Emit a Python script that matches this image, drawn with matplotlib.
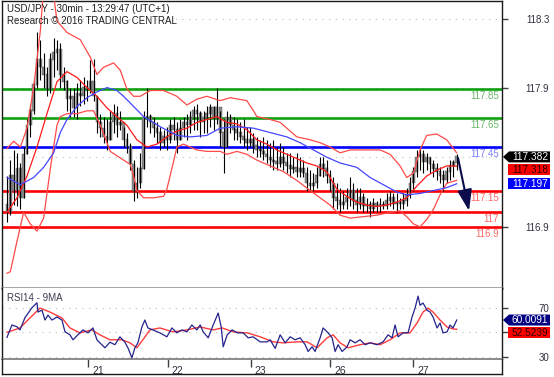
import numpy as np
import matplotlib
matplotlib.use('Agg')
import matplotlib.pyplot as plt
from matplotlib.patches import Polygon
from matplotlib.lines import Line2D
from matplotlib.transforms import ScaledTranslation, blended_transform_factory

plt.rcParams['font.family'] = ['Liberation Sans', 'DejaVu Sans']

# ---- price bars (one bar per hour, open = previous close) ----
first_open = 117.05
closes = [117.00, 117.25, 117.15, 117.30, 117.10, 117.40, 117.60, 117.70, 117.88, 118.05,
          118.00, 117.95, 117.85, 118.05, 118.10, 118.12, 117.95, 117.90, 117.78, 117.80,
          117.72, 117.82, 117.80, 117.86, 117.85, 117.90, 117.80, 117.62, 117.58, 117.52,
          117.50, 117.62, 117.68, 117.60, 117.62, 117.50, 117.45, 117.33, 117.15, 117.20,
          117.30, 117.65, 117.66, 117.62, 117.58, 117.55, 117.48, 117.52, 117.50, 117.60,
          117.57, 117.50, 117.58, 117.62, 117.60, 117.65, 117.70, 117.68, 117.62, 117.65,
          117.68, 117.72, 117.65, 117.72, 117.55, 117.45, 117.65, 117.60, 117.57, 117.55,
          117.52, 117.50, 117.48, 117.50, 117.46, 117.43, 117.42, 117.40, 117.38, 117.36,
          117.35, 117.33, 117.38, 117.34, 117.32, 117.30, 117.31, 117.28, 117.30, 117.27,
          117.20, 117.18, 117.20, 117.25, 117.33, 117.30, 117.25, 117.20, 117.10, 117.08,
          117.05, 117.07, 117.10, 117.15, 117.08, 117.05, 117.10, 117.04, 117.05, 117.02,
          117.06, 117.04, 117.05, 117.04, 117.08, 117.10, 117.06, 117.07, 117.06, 117.08,
          117.12, 117.20, 117.28, 117.38, 117.40, 117.35, 117.38, 117.33, 117.30, 117.28,
          117.25, 117.22, 117.28, 117.32, 117.34, 117.382]
highs = [117.25, 117.36, 117.43, 117.41, 117.34, 117.45, 117.64, 117.75, 117.91, 118.24,
         118.19, 118.10, 118.00, 118.10, 118.20, 118.19, 118.17, 118.00, 117.91, 117.86,
         117.86, 117.89, 117.91, 117.93, 117.91, 118.05, 118.06, 117.80, 117.68, 117.66,
         117.64, 117.70, 117.75, 117.73, 117.70, 117.59, 117.55, 117.48, 117.36, 117.31,
         117.41, 117.70, 117.86, 117.68, 117.66, 117.62, 117.59, 117.57, 117.59, 117.64,
         117.66, 117.62, 117.64, 117.66, 117.68, 117.70, 117.73, 117.75, 117.70, 117.70,
         117.73, 117.75, 117.73, 117.86, 117.70, 117.64, 117.70, 117.68, 117.66, 117.64,
         117.62, 117.64, 117.59, 117.59, 117.55, 117.52, 117.50, 117.52, 117.50, 117.48,
         117.50, 117.45, 117.48, 117.45, 117.41, 117.41, 117.38, 117.41, 117.38, 117.36,
         117.31, 117.29, 117.27, 117.31, 117.38, 117.38, 117.36, 117.29, 117.24, 117.20,
         117.17, 117.15, 117.17, 117.24, 117.20, 117.17, 117.17, 117.13, 117.10, 117.08,
         117.10, 117.08, 117.10, 117.08, 117.13, 117.15, 117.13, 117.13, 117.10, 117.13,
         117.17, 117.24, 117.31, 117.43, 117.44, 117.43, 117.41, 117.38, 117.36, 117.34,
         117.31, 117.29, 117.31, 117.36, 117.36, 117.40]
lows = [116.93, 116.98, 117.05, 117.04, 117.02, 117.10, 117.40, 117.52, 117.68, 117.86,
        117.91, 117.86, 117.80, 117.82, 117.93, 117.98, 117.86, 117.84, 117.70, 117.66,
        117.66, 117.64, 117.73, 117.75, 117.77, 117.82, 117.77, 117.55, 117.52, 117.48,
        117.43, 117.50, 117.55, 117.52, 117.57, 117.45, 117.41, 117.29, 117.08, 117.10,
        117.17, 117.30, 117.59, 117.55, 117.52, 117.48, 117.43, 117.45, 117.43, 117.48,
        117.50, 117.41, 117.50, 117.52, 117.50, 117.55, 117.57, 117.57, 117.52, 117.55,
        117.55, 117.59, 117.57, 117.61, 117.45, 117.27, 117.45, 117.55, 117.50, 117.50,
        117.48, 117.45, 117.43, 117.45, 117.41, 117.38, 117.38, 117.36, 117.34, 117.31,
        117.29, 117.29, 117.31, 117.29, 117.27, 117.24, 117.27, 117.24, 117.24, 117.24,
        117.15, 117.15, 117.15, 117.17, 117.25, 117.24, 117.20, 117.15, 117.02, 117.02,
        117.00, 117.02, 117.02, 117.04, 117.02, 117.00, 117.02, 117.00, 117.00, 116.97,
        117.00, 117.00, 117.00, 117.02, 117.02, 117.04, 117.02, 117.00, 117.02, 117.02,
        117.04, 117.10, 117.15, 117.24, 117.29, 117.27, 117.29, 117.27, 117.24, 117.22,
        117.20, 117.15, 117.20, 117.22, 117.24, 117.29]

# ---- overlays (bar index, price) ----
bb_up_x = [0, 2, 4, 6, 8, 10, 11, 13, 14, 15, 18, 22, 25, 27, 29, 32, 34, 36, 38, 40,
           43, 47, 51, 54, 57, 60, 64, 67, 72, 74, 75, 79, 82, 87, 91, 94, 97, 100, 103, 107,
           112, 115, 118, 120, 122, 124, 126, 129, 132, 135]
bb_up_y = [117.44, 117.49, 117.45, 117.58, 117.86, 118.25, 118.55, 118.65, 118.50, 118.32,
           118.24, 118.19, 118.07, 117.95, 118.00, 118.03, 117.98, 117.85, 117.80, 117.80,
           117.84, 117.84, 117.80, 117.74, 117.78, 117.80, 117.77, 117.79, 117.77, 117.70,
           117.66, 117.64, 117.62, 117.52, 117.50, 117.48, 117.45, 117.41, 117.43, 117.43,
           117.43, 117.40, 117.32, 117.24, 117.27, 117.43, 117.53, 117.54, 117.50, 117.41]
bb_lo_x = [0, 1, 3, 5, 7, 9, 11, 12, 13, 14, 15, 16, 18, 21, 24, 26, 28, 31, 35, 37,
           38, 39, 41, 44, 47, 48, 50, 51, 53, 57, 60, 64, 66, 69, 72, 75, 79, 83, 87, 91,
           94, 97, 100, 103, 107, 111, 115, 118, 120, 122, 124, 126, 128, 130, 132, 135]
bb_lo_y = [116.58, 116.59, 116.80, 117.00, 116.92, 116.87, 116.96, 117.13, 117.30, 117.45,
           117.60, 117.66, 117.68, 117.68, 117.70, 117.70, 117.60, 117.42, 117.36, 117.33,
           117.25, 117.15, 117.10, 117.10, 117.11, 117.16, 117.35, 117.45, 117.47, 117.43,
           117.42, 117.42, 117.40, 117.42, 117.40, 117.36, 117.32, 117.28, 117.22, 117.15,
           117.10, 117.05, 116.98, 116.96, 116.97, 116.98, 117.00, 117.01, 116.97, 116.92,
           116.90, 116.95, 117.02, 117.12, 117.20, 117.22]
ma20_x = [0, 3, 6, 9, 12, 15, 18, 21, 24, 27, 30, 33, 36, 39, 42, 45, 48, 51, 54, 57,
          60, 63, 66, 69, 72, 75, 78, 81, 84, 87, 90, 93, 96, 99, 102, 105, 108, 111, 114, 117,
          120, 123, 126, 129, 132, 135]
ma20_y = [117.00, 117.10, 117.25, 117.45, 117.68, 117.90, 117.97, 117.93, 117.86, 117.80,
          117.72, 117.66, 117.60, 117.50, 117.45, 117.47, 117.52, 117.56, 117.58, 117.62,
          117.64, 117.66, 117.62, 117.61, 117.57, 117.50, 117.47, 117.43, 117.40, 117.37,
          117.34, 117.32, 117.28, 117.16, 117.11, 117.07, 117.05, 117.04, 117.05, 117.07,
          117.10, 117.18, 117.25, 117.29, 117.32, 117.318]
ma50_x = [0, 4, 8, 11, 14, 16, 18, 21, 24, 27, 30, 33, 35, 38, 41, 46, 51, 55, 60, 64,
          69, 74, 79, 84, 88, 92, 96, 100, 105, 109, 113, 117, 120, 124, 128, 132, 135]
ma50_y = [117.24, 117.19, 117.24, 117.31, 117.41, 117.55, 117.64, 117.73, 117.79, 117.83,
          117.86, 117.84, 117.80, 117.73, 117.66, 117.59, 117.53, 117.52, 117.53, 117.58,
          117.59, 117.58, 117.55, 117.52, 117.48, 117.43, 117.38, 117.34, 117.31, 117.24,
          117.19, 117.14, 117.12, 117.13, 117.15, 117.17, 117.197]

# ---- RSI panel ----
rsi_x = [0, 1.5, 3, 3.9, 5.4, 7.5, 9, 9.3, 10.5, 11.4,
         12.3, 13.5, 15, 16.5, 17.4, 18.9, 19.8, 21.3, 22.8, 24.3,
         25.8, 27, 27.9, 29.4, 30.9, 32.4, 33.9, 35.4, 36.3, 37.5,
         38.4, 39.3, 40.5, 41.4, 42.3, 43.8, 45.9, 48, 49.5, 51,
         52.5, 54, 55.5, 57, 58, 58.9, 60.4, 61.9, 63.4, 64.3,
         64.9, 66.1, 67.6, 69.1, 70.9, 72.4, 73.9, 76, 78.1, 79,
         80.5, 82, 83.5, 85, 86.5, 88, 89.5, 90.4, 91.6, 92.5,
         94, 94.9, 96.4, 97.6, 98.5, 99.4, 100.6, 102.1, 103, 104.5,
         106, 107.5, 109, 111.1, 112.9, 114.4, 115.6, 116.5, 117.4, 118.9,
         120.4, 121.6, 122.5, 123.4, 124, 124.9, 126.1, 127, 127.9, 129.1,
         130, 130.9, 132.1, 133, 133.9, 135]
rsi_y = [46, 56, 54.5, 52, 62, 70, 74, 66.5, 68, 60,
         64, 60, 62.5, 60, 50.5, 48, 44, 48, 52, 49.6,
         53.6, 44, 41.5, 37.5, 42, 40, 46.4, 42, 37.5, 29.4,
         37.5, 41.5, 54.4, 60, 53.6, 52, 49.6, 46.4, 53.6, 49.6,
         52, 50.4, 56, 52, 56, 50.4, 45.6, 56, 65.7, 54.4,
         38.3, 48, 52, 49.6, 49.6, 45.6, 46.4, 42.3, 42.3, 44,
         37, 48, 41.5, 46.4, 44, 45.6, 40, 34.5, 38.3, 34.5,
         45.6, 53.6, 49.6, 45.6, 34.5, 40, 34.5, 38.3, 44, 41.5,
         44, 40, 41.5, 40, 42.3, 48, 45.6, 56, 46.4, 49.6,
         49.6, 62.5, 69.7, 79.4, 72, 73.8, 68, 66.5, 62.5, 53.6,
         57.6, 49.6, 50.4, 56, 53.6, 60.0091]
rsi_ma_x = [0, 3.9, 6.9, 9.9, 12.9, 16.5, 18.9, 21.9, 25.5, 27.9,
            30.9, 34.5, 36.9, 39, 40.8, 42.9, 45.9, 49.8, 54, 58,
            61.9, 64.6, 67.9, 72.1, 76, 79.9, 82.9, 87.1, 90.1, 93.1,
            96.1, 97.9, 100, 102.4, 106, 109, 112, 115, 118, 121,
            123.1, 124.9, 126.4, 127.9, 130, 132.1, 133.9, 135]
rsi_ma_y = [50, 53.6, 61.7, 69.7, 66.5, 61.7, 53.6, 49.6, 52, 48,
            44, 44, 41.5, 37.5, 44, 52, 53.6, 50.4, 52, 54.4,
            52, 53.6, 50.4, 49.6, 46.4, 42.3, 41.5, 42.3, 42.3, 37.5,
            45.6, 48, 41.5, 37.5, 40, 41.5, 40, 44, 49.6, 49.6,
            57.6, 66.5, 69.7, 66.5, 60, 54.4, 52.8, 52.5239]

levels = [117.85, 117.65, 117.45, 117.15, 117.0, 116.9]
level_labels = ['117.85', '117.65', '117.45', '117.15', '117', '116.9']
level_colors = ['#10a010', '#10a010', '#0000ff', '#ff0000', '#ff0000', '#ff0000']
level_text_colors = ['#6ab86a', '#6ab86a', '#7f7fff', '#ff6a6a', '#ff6a6a', '#ff6a6a']

price_ticks = [116.898, 117.857, 118.333]
price_tick_labels = ['116.9', '117.9', '118.3']
rsi_ticks = [30, 50, 70]
rsi_tick_labels = ['30', '', '70']
day_ticks = [24.3, 48.3, 73.2, 97.0, 121.9]
day_labels = ['21', '22', '23', '26', '27']

last_price = 117.382
ma20_last = 117.318
ma50_last = 117.197
rsi_last = 60.0091
rsi_ma_last = 52.5239
arrow_from = (135.4, 117.374)
arrow_to = (138.7, 117.01)

# ---- figure ----
W, H = 554, 377
fig = plt.figure(figsize=(W / 100, H / 100), dpi=100)


def fx(px):
    return px / W


def fy(py):
    return 1 - py / H


ax = fig.add_axes([fx(2), fy(288), fx(502) - fx(2), fy(1) - fy(288)])
ax2 = fig.add_axes([fx(2), fy(359), fx(502) - fx(2), fy(288) - fy(359)])
xlim = (-1.5, 148.6)

# candles
x = np.arange(len(closes))
c = np.array(closes)
o = np.r_[first_open, c[:-1]]
ax.bar(x, np.abs(c - o) + 0.004, bottom=np.minimum(o, c), width=0.82,
       color='#8c8c8c', edgecolor='#505050', lw=0.3, zorder=3)
ax.vlines(x, lows, highs, color='black', lw=0.8, zorder=4)

# levels
for lv, lc in zip(levels, level_colors):
    ax.axhline(lv, color=lc, lw=1.9, zorder=2)
tr = blended_transform_factory(ax.transAxes, ax.transData)
off = ScaledTranslation(0, -7 / 100, fig.dpi_scale_trans)
for lv, lab, tc in zip(levels, level_labels, level_text_colors):
    ax.text(0.994, lv, lab, transform=tr + off, ha='right', va='center',
            fontsize=7, color=tc, zorder=6)

# grid
for t in price_ticks + [last_price]:
    ax.axhline(t, color='#bdbdbd', lw=0.8, ls=(0, (1, 5)), zorder=1)

# overlays
ax.plot(bb_up_x, bb_up_y, color='#ff4a4a', lw=0.9, zorder=5)
ax.plot(bb_lo_x, bb_lo_y, color='#ff4a4a', lw=0.9, zorder=5)
ax.plot(ma20_x, ma20_y, color='#ff1a1a', lw=0.9, zorder=5)
ax.plot(ma50_x, ma50_y, color='#4646ff', lw=0.9, zorder=5)

ax.annotate('', xy=arrow_to, xytext=arrow_from,
            arrowprops=dict(arrowstyle='-|>,head_length=1.6,head_width=0.55',
                            color='#0c0c4c', lw=1.5, mutation_scale=8,
                            shrinkA=0, shrinkB=0), zorder=7)

ax.set_xlim(*xlim)
ax.set_ylim(116.478, 118.457)
ax.set_xticks([])
ax.yaxis.tick_right()
ax.set_yticks(price_ticks)
ax.set_yticklabels(price_tick_labels)
ax.tick_params(axis='y', length=4, width=1, color='#404040', labelsize=7,
               labelcolor='#303040', pad=30)
for lbl in ax.get_yticklabels():
    lbl.set_ha('right')
for s in ['left', 'top', 'right']:
    ax.spines[s].set_color('#1a1a1a')
    ax.spines[s].set_linewidth(1.0)
ax.spines['bottom'].set_color('#8a8a8a')
ax.spines['bottom'].set_linewidth(1.8)

# RSI
ax2.plot(rsi_ma_x, rsi_ma_y, color='#ff3c3c', lw=1.0, zorder=3)
ax2.plot(rsi_x, rsi_y, color='#23238c', lw=0.9, zorder=4)
for t in rsi_ticks:
    ax2.axhline(t, color='#bdbdbd', lw=0.8, ls=(0, (1, 5)), zorder=1)
ax2.set_xlim(*xlim)
ax2.set_ylim(28.4, 86.0)
ax2.yaxis.tick_right()
ax2.set_yticks(rsi_ticks)
ax2.set_yticklabels(rsi_tick_labels)
ax2.tick_params(axis='y', length=4, width=1, color='#404040', labelsize=7,
                labelcolor='#303040', pad=30)
for lbl in ax2.get_yticklabels():
    lbl.set_ha('right')
ax2.set_xticks(day_ticks)
ax2.set_xticklabels(day_labels)
ax2.tick_params(axis='x', length=6, width=1, color='#404040', labelsize=7.5,
                labelcolor='#303040', pad=-1)
for lbl in ax2.get_xticklabels():
    lbl.set_ha('left')
    lbl.set_transform(lbl.get_transform() + ScaledTranslation(4 / 100, 0, fig.dpi_scale_trans))
ax2.spines['top'].set_visible(False)
for s in ['left', 'right']:
    ax2.spines[s].set_color('#1a1a1a')
    ax2.spines[s].set_linewidth(1.0)
ax2.spines['bottom'].set_color('#8a8a8a')
ax2.spines['bottom'].set_linewidth(1.4)
ax2.text(0.01, 0.86, 'RSI14 - 9MA', transform=ax2.transAxes, fontsize=7,
         color='#3c3c50', va='center')

# outer frame below the RSI panel
for xs, ys in [((2, 2), (359, 374)), ((502, 502), (359, 374)), ((2, 502), (374, 374))]:
    fig.add_artist(Line2D([fx(v) for v in xs], [fy(v) for v in ys],
                          color='#1a1a1a', lw=1.0))

# titles
fig.text(fx(7), fy(9), 'USD/JPY - 30min - 13:29:47 (UTC+1)', fontsize=7,
         color='#1e1e1e', va='center')
fig.text(fx(7), fy(21), 'Research \u00a9 2016 TRADING CENTRAL', fontsize=7,
         color='#1e1e1e', va='center')


# value boxes on the right scale
def value_box(ycen, text, face, tcolor, arrow):
    top, bot = ycen - 5.5, ycen + 5.5
    if arrow:
        pts = [(503, ycen), (509, top), (550, top), (550, bot), (509, bot)]
    else:
        pts = [(508, top), (550, top), (550, bot), (508, bot)]
    fig.add_artist(Polygon([(fx(a), fy(b)) for a, b in pts], closed=True,
                           facecolor=face, edgecolor='none',
                           transform=fig.transFigure))
    fig.text(fx(530), fy(ycen + 0.3), text, fontsize=7.3, color=tcolor,
             ha='center', va='center')


def price_px(v):
    return 1 + (118.457 - v) / (118.457 - 116.478) * 287


def rsi_px(v):
    return 288 + (86.0 - v) / (86.0 - 28.4) * 71


y_last = price_px(last_price)
value_box(y_last, f'{last_price:.3f}', '#000000', 'white', True)
value_box(y_last + 12.5, f'{ma20_last:.3f}', '#ff0000', '#2a0000', False)
value_box(max(price_px(ma50_last), y_last + 25.5), f'{ma50_last:.3f}', '#0000ff', 'white', False)
y_rsi = rsi_px(rsi_last)
value_box(y_rsi, f'{rsi_last:.4f}', '#000080', 'white', True)
value_box(y_rsi + 12.5, f'{rsi_ma_last:.4f}', '#ff0000', '#2a0000', False)

fig.savefig('out.png', dpi=100)
